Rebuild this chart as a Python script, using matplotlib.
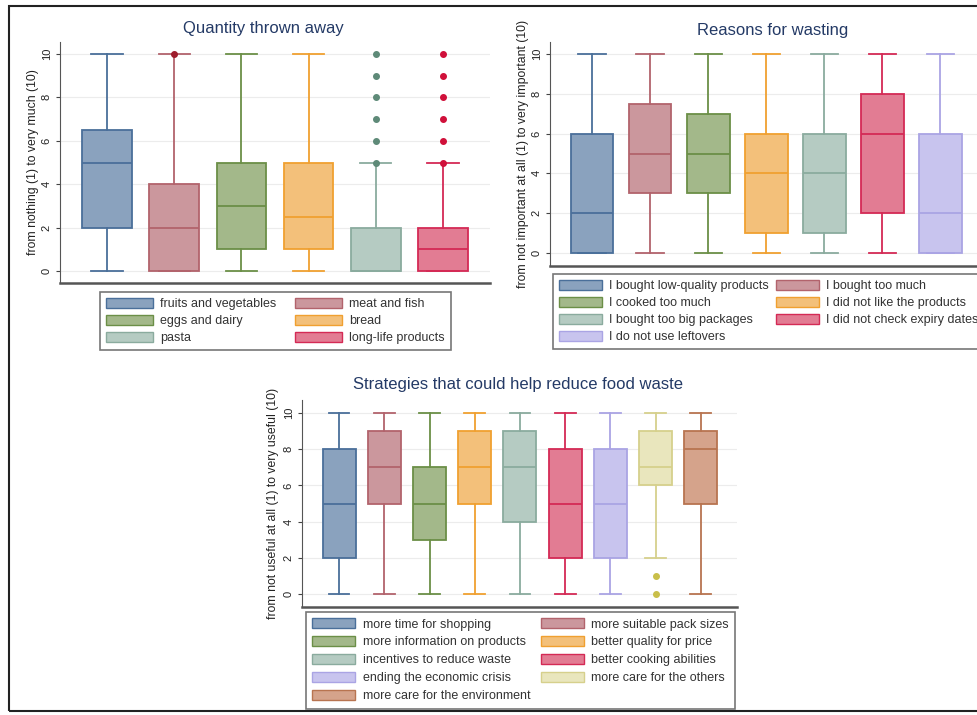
import numpy as np
import matplotlib.pyplot as plt
from matplotlib.patches import Patch, Rectangle

plt.rcParams['font.family'] = ['Liberation Sans', 'DejaVu Sans']

W, H = 977, 715

# (edge, fill, outlier) per series
pal = [
    ('#4a6f9a', '#8aa2be', '#4a6f9a'),
    ('#b2636c', '#cb979d', '#9e1c2c'),
    ('#6b8f47', '#a3b88a', '#6b8f47'),
    ('#f0a030', '#f3c07a', '#f0a030'),
    ('#8aab9e', '#b5cbc2', '#5e8a78'),
    ('#d42a55', '#e27c93', '#d0103a'),
    ('#aaa4e4', '#c8c4ee', '#aaa4e4'),
    ('#d6d08c', '#e9e6bd', '#c9bf4a'),
    ('#b87450', '#d5a38b', '#b87450'),
]

# Quantity thrown away
qty_labels = ['fruits and vegetables', 'meat and fish', 'eggs and dairy', 'bread',
              'pasta', 'long-life products']
qty_lo = [0, 0, 0, 0, 0, 0]
qty_q1 = [2, 0, 1, 1, 0, 0]
qty_med = [5, 2, 3, 2.5, 0, 1]
qty_q3 = [6.5, 4, 5, 5, 2, 2]
qty_hi = [10, 10, 10, 10, 5, 5]
qty_out = [[], [10], [], [], [5, 6, 7, 8, 9, 10], [5, 6, 7, 8, 9, 10]]

# Reasons for wasting
rsn_labels = ['I bought low-quality products', 'I bought too much', 'I cooked too much',
              'I did not like the products', 'I bought too big packages',
              'I did not check expiry dates', 'I do not use leftovers']
rsn_lo = [0, 0, 0, 0, 0, 0, 0]
rsn_q1 = [0, 3, 3, 1, 1, 2, 0]
rsn_med = [2, 5, 5, 4, 4, 6, 2]
rsn_q3 = [6, 7.5, 7, 6, 6, 8, 6]
rsn_hi = [10, 10, 10, 10, 10, 10, 10]
rsn_out = [[], [], [], [], [], [], []]

# Strategies
str_labels = ['more time for shopping', 'more suitable pack sizes',
              'more information on products', 'better quality for price',
              'incentives to reduce waste', 'better cooking abilities',
              'ending the economic crisis', 'more care for the others',
              'more care for the environment']
str_lo = [0, 0, 0, 0, 0, 0, 0, 2, 0]
str_q1 = [2, 5, 3, 5, 4, 2, 2, 6, 5]
str_med = [5, 7, 5, 7, 7, 5, 5, 7, 8]
str_q3 = [8, 9, 7, 9, 9, 8, 8, 9, 9]
str_hi = [10, 10, 10, 10, 10, 10, 10, 10, 10]
str_out = [[], [], [], [], [], [], [], [1, 0], []]

fig = plt.figure(figsize=(W / 100, H / 100), dpi=100)
fig.patch.set_facecolor('white')


def px_rect(x0, y0, x1, y1):
    return [x0 / W, 1 - y1 / H, (x1 - x0) / W, (y1 - y0) / H]


def panel(rect, lo, q1, med, q3, hi, out, xlim, ylim, width, ylabel, lab_x):
    ax = fig.add_axes(px_rect(*rect))
    for i in range(len(lo)):
        edge, fill, dot = pal[i]
        st = dict(whislo=lo[i], q1=q1[i], med=med[i], q3=q3[i], whishi=hi[i],
                  fliers=np.array(out[i], dtype=float))
        ax.bxp([st], positions=[i + 1], widths=width, capwidths=width * 0.63,
               patch_artist=True, manage_ticks=False,
               boxprops=dict(facecolor=fill, edgecolor=edge, lw=1.3),
               medianprops=dict(color=edge, lw=1.3),
               whiskerprops=dict(color=edge, lw=1.3),
               capprops=dict(color=edge, lw=1.3),
               flierprops=dict(marker='o', markerfacecolor=dot, markeredgecolor=dot,
                               markersize=4, ls='none'))
    ax.set_xlim(*xlim)
    ax.set_ylim(*ylim)
    ax.set_yticks(range(0, 11, 2))
    ax.set_xticks([])
    ax.tick_params(axis='y', length=3, pad=3, labelsize=8, colors='#444')
    plt.setp(ax.get_yticklabels(), rotation=90, va='center', color='#222')
    ax.yaxis.grid(True, color='#ececec', lw=0.8)
    ax.set_axisbelow(True)
    for s in ('top', 'right'):
        ax.spines[s].set_visible(False)
    ax.spines['left'].set_color('#555')
    ax.spines['bottom'].set_color('#555')
    ax.spines['bottom'].set_linewidth(1.8)
    ax.set_ylabel(ylabel, fontsize=8.8, color='#222')
    # label coords give the right edge of the rotated text
    ax.yaxis.set_label_coords((lab_x + 6 - rect[0]) / (rect[2] - rect[0]), 0.5)
    return ax


def legend(labels, n, x, y, hl, colsp, bpad, lsp=0.38):
    order = list(range(0, n, 2)) + list(range(1, n, 2))
    handles = [Patch(facecolor=pal[i][1], edgecolor=pal[i][0], lw=1) for i in range(n)]
    leg = fig.legend([handles[i] for i in order], [labels[i] for i in order],
                     loc='upper left', bbox_to_anchor=(x / W, 1 - y / H), ncol=2,
                     fancybox=False, edgecolor='#555', fontsize=9, handlelength=hl,
                     handleheight=0.85, labelspacing=lsp, columnspacing=colsp,
                     borderpad=bpad, borderaxespad=0, handletextpad=0.6,
                     labelcolor='#333')
    leg.get_frame().set_linewidth(1.2)
    return leg


panel((60, 42, 490, 283), qty_lo, qty_q1, qty_med, qty_q3, qty_hi, qty_out,
      (0.30, 6.70), (-0.55, 10.55), 0.74, 'from nothing (1) to very much (10)', 33)
panel((550, 42, 990, 266), rsn_lo, rsn_q1, rsn_med, rsn_q3, rsn_hi, rsn_out,
      (0.276, 7.86), (-0.65, 10.6), 0.74,
      'from not important at all (1) to very important (10)', 523)
panel((302, 400, 737, 607), str_lo, str_q1, str_med, str_q3, str_hi, str_out,
      (0.18, 9.8), (-0.72, 10.72), 0.73,
      'from not useful at all (1) to very useful (10)', 273)

title_kw = dict(fontsize=12, color='#243a66', ha='center', va='center')
fig.text(263 / W, 1 - 29 / H, 'Quantity thrown away', **title_kw)
fig.text(773 / W, 1 - 31 / H, 'Reasons for wasting', **title_kw)
fig.text(518 / W, 1 - 385 / H, 'Strategies that could help reduce food waste', **title_kw)

legend(qty_labels, 6, 100, 292, 3.75, 1.5, 0.45)
legend(rsn_labels, 7, 553, 274, 3.45, 0.55, 0.45)
legend(str_labels, 9, 306, 612, 3.45, 0.8, 0.5, 0.45)

fig.add_artist(Rectangle((9 / W, 1 - 711 / H), 990 / W, 705 / H, transform=fig.transFigure,
                         fill=False, edgecolor='#222', lw=1.5))

fig.savefig('out.png', dpi=100)
